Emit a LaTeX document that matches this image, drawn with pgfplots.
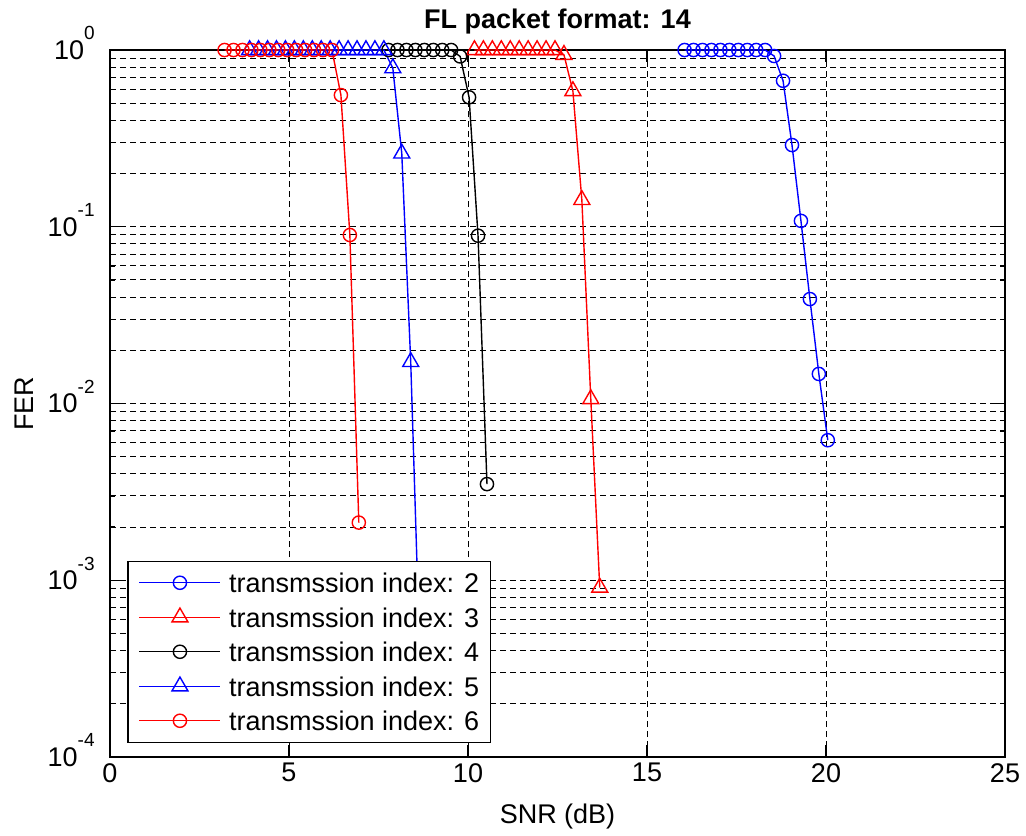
\documentclass[border=0pt]{standalone}
\usepackage{fontspec}
\setmainfont{Liberation Sans}
\usepackage{pgfplots}
\pgfplotsset{compat=1.18}
\newcommand{\pw}[1]{10\smash{\raisebox{0.72em}{\fontsize{9.5}{11}\selectfont #1}}}
\begin{document}
\begin{tikzpicture}[font=\fontsize{13.5}{16}\selectfont]
\useasboundingbox (0,0) rectangle (513pt,417.5pt);
\begin{axis}[
  at={(55pt,39pt)}, anchor=south west,
  scale only axis, width=447.5pt, height=353.5pt,
  xmin=0, xmax=25, ymode=log, ymin=1e-4, ymax=1,
  xtick={0,5,10,15,20,25},
  xticklabels={0,5,10,15,20,25},
  ytick={1e-4,1e-3,1e-2,1e-1,1},
  yticklabels={\pw{-4},\pw{-3},\pw{-2},\pw{-1},\pw{0}},
  minor ytick={2e-4,3e-4,4e-4,5e-4,6e-4,7e-4,8e-4,9e-4,
               2e-3,3e-3,4e-3,5e-3,6e-3,7e-3,8e-3,9e-3,
               2e-2,3e-2,4e-2,5e-2,6e-2,7e-2,8e-2,9e-2,
               0.2,0.3,0.4,0.5,0.6,0.7,0.8,0.9},
  xmajorgrids, ymajorgrids, yminorgrids,
  major grid style={black, line width=0.5pt, dash pattern=on 3pt off 2pt},
  minor grid style={black, line width=0.5pt, dash pattern=on 3pt off 2pt},
  tick align=inside,
  major tick length=6pt, minor tick length=2.5pt,
  every tick/.style={black, line width=0.6pt},
  axis line style={line width=0.75pt},
  xticklabel style={inner sep=0pt, anchor=north, yshift=-3pt},
  yticklabel style={inner sep=0pt, anchor=east, xshift=-7.5pt},
  every axis title shift=0pt,
  title={\bfseries FL packet format: 14},
  title style={at={(axis description cs:0.5,1.0311)}, anchor=base, yshift=0pt, inner sep=0pt},
  xlabel={SNR (dB)},
  xlabel style={at={(axis description cs:0.5,-0.0934)}, anchor=base, inner sep=0pt},
  ylabel={FER},
  ylabel style={at={(axis description cs:-0.086,0.5)}, rotate=0, anchor=base, inner sep=0pt},
  clip=false,
  every axis plot/.append style={line width=0.7pt, mark size=3.3pt},
  legend image code/.code={\draw[mark repeat=2,mark phase=2] plot coordinates {(0pt,0pt) (20.25pt,0pt) (40.5pt,0pt)};},
  legend style={at={(axis description cs:0.019,0.0198)}, anchor=south west,
    draw=black, line width=0.75pt, fill=white,
    inner xsep=5.5pt, inner ysep=5.75pt, row sep=7.25pt, column sep=4pt,
    nodes={inner sep=0pt, text height=10pt, text depth=0pt},
    font=\fontsize{13.5}{16}\selectfont},
  legend cell align=left,
]
\addplot[blue, mark=o] coordinates {(16.05,1)(16.3,1)(16.55,1)(16.8,1)(17.05,1)(17.3,1)(17.55,1)(17.8,1)(18.05,1)(18.3,1)(18.55,0.925)(18.8,0.67)(19.05,0.29)(19.3,0.108)(19.55,0.039)(19.8,0.0147)(20.05,0.0062)};
\addlegendentry{transmssion index: 2}
\addplot[red, mark=triangle, mark size=4.6pt] coordinates {(10.18,1)(10.43,1)(10.68,1)(10.93,1)(11.18,1)(11.43,1)(11.68,1)(11.93,1)(12.18,1)(12.43,1)(12.68,0.94)(12.93,0.586)(13.18,0.142)(13.43,0.0106)(13.68,0.00091)};
\addlegendentry{transmssion index: 3}
\addplot[black, mark=o] coordinates {(7.78,1)(8.03,1)(8.28,1)(8.53,1)(8.78,1)(9.03,1)(9.28,1)(9.53,1)(9.78,0.92)(10.03,0.54)(10.28,0.089)(10.53,0.0035)};
\addlegendentry{transmssion index: 4}
\addplot[blue, mark=triangle, mark size=4.6pt] coordinates {(3.9,1)(4.15,1)(4.4,1)(4.65,1)(4.9,1)(5.15,1)(5.4,1)(5.65,1)(5.9,1)(6.15,1)(6.4,1)(6.65,1)(6.9,1)(7.15,1)(7.4,1)(7.65,1)(7.9,0.79)(8.15,0.26)(8.4,0.0172)(8.65,0.0004)};
\addlegendentry{transmssion index: 5}
\addplot[red, mark=o] coordinates {(3.2,1)(3.45,1)(3.7,1)(3.95,1)(4.2,1)(4.45,1)(4.7,1)(4.95,1)(5.2,1)(5.45,1)(5.7,1)(5.95,1)(6.2,1)(6.45,0.556)(6.7,0.0898)(6.95,0.00212)};
\addlegendentry{transmssion index: 6}
\end{axis}
\end{tikzpicture}
\end{document}
